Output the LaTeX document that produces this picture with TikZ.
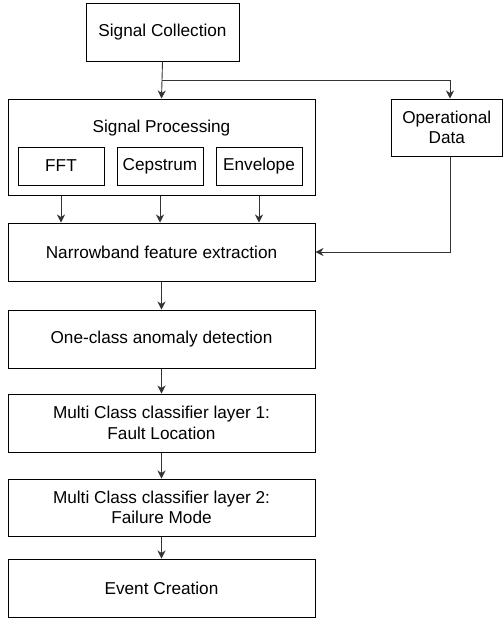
\documentclass[tikz,border=0pt]{standalone}
\usepackage{fontspec}
\setmainfont{Liberation Sans}
\usetikzlibrary{arrows.meta}
\begin{document}
\begin{tikzpicture}[x=1pt,y=-1pt,
  box/.style={draw=black,line width=1pt,fill=white,inner sep=0pt,align=center,
    font=\fontsize{17.2}{20.5}\selectfont},
  arr/.style={draw=black!80,line width=0.9pt,
    -{Stealth[length=8pt,width=8pt,inset=2.5pt]}},
]
\useasboundingbox (0,0) rectangle (503,619);

% top source
\node[box,minimum width=153pt,minimum height=58pt] (sc) at (162.5,32) {Signal Collection};

% processing group with its three transforms
\node[box,minimum width=307pt,minimum height=96pt] (sp) at (161.5,147) {};
\node[font=\fontsize{17.2}{20.5}\selectfont,inner sep=0pt] (splabel) at (161.5,128) {Signal Processing};
\node[box,minimum width=86pt,minimum height=38pt] (fft) at (61,166) {FFT};
\node[box,minimum width=86pt,minimum height=38pt] (cep) at (160,166) {Cepstrum};
\node[box,minimum width=86pt,minimum height=38pt] (env) at (259,166) {Envelope};

% side input
\node[box,minimum width=111.5pt,minimum height=57pt] (od) at (446.75,127.5) {Operational\\Data};

% main pipeline
\node[box,minimum width=307pt,minimum height=58pt] (nb) at (161.5,252) {Narrowband feature extraction};
\node[box,minimum width=307pt,minimum height=58pt] (oc) at (161.5,339) {One-class anomaly detection};
\node[box,minimum width=307pt,minimum height=58pt] (mc1) at (161.5,423) {Multi Class classifier layer 1:\\Fault Location};
\node[box,minimum width=307pt,minimum height=57pt] (mc2) at (161.5,507.5) {Multi Class classifier layer 2:\\Failure Mode};
\node[box,minimum width=307pt,minimum height=58pt] (ev) at (161.5,588) {Event Creation};

% connectors
\coordinate (split) at (162,80);
\draw[arr] (sc.south) -- (sp.north);
\draw[arr] (split) -| ([xshift=3.25pt]od.north);
\draw[arr] (fft.south) ++(0,10) -- (fft.south |- nb.north);
\draw[arr] (cep.south) ++(0,10) -- (cep.south |- nb.north);
\draw[arr] (env.south) ++(0,10) -- (env.south |- nb.north);
\draw[arr] ([xshift=3.25pt]od.south) |- (nb.east);
\draw[arr] (nb.south) -- (oc.north);
\draw[arr] (oc.south) -- (mc1.north);
\draw[arr] (mc1.south) -- (mc2.north);
\draw[arr] (mc2.south) -- (ev.north);
\end{tikzpicture}
\end{document}
